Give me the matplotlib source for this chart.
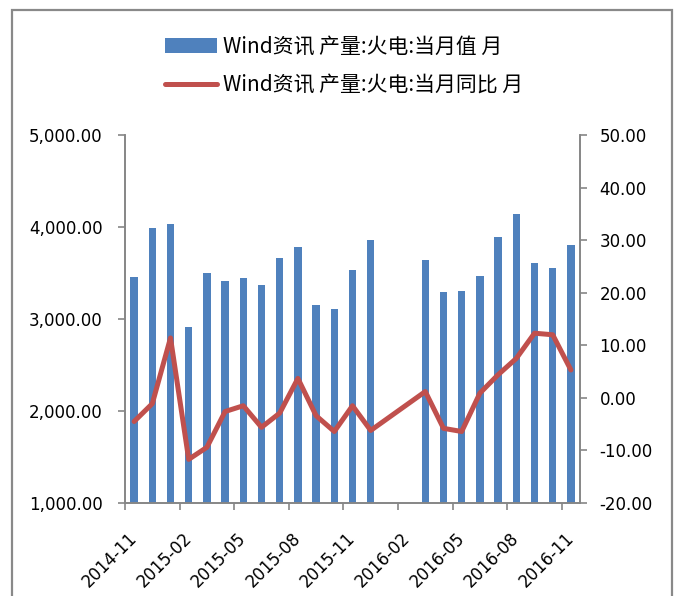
import numpy as np
import matplotlib
matplotlib.use('Agg')
import matplotlib.pyplot as plt
import matplotlib.patches as mpatches

plt.rcParams['font.family'] = ['DejaVu Sans', 'Noto Sans CJK SC']

# monthly categories, 2014-11 .. 2016-11
months = ['2014-11', '2014-12', '2015-01', '2015-02', '2015-03', '2015-04',
          '2015-05', '2015-06', '2015-07', '2015-08', '2015-09', '2015-10',
          '2015-11', '2015-12', '2016-01', '2016-02', '2016-03', '2016-04',
          '2016-05', '2016-06', '2016-07', '2016-08', '2016-09', '2016-10',
          '2016-11']
# 火电 当月值 (亿千瓦时), Jan/Feb 2016 not published
output = [3460, 3986, 4029, 2916, 3497, 3413, 3446, 3370, 3660, 3783,
          3149, 3109, 3533, 3859, np.nan, np.nan, 3645, 3290, 3301, 3464,
          3891, 4138, 3612, 3558, 3801]
# 火电 当月同比 (%)
yoy = [-4.5, -1.1, 11.4, -11.7, -9.4, -2.6, -1.5, -5.6, -2.9, 3.7,
       -3.4, -6.4, -1.5, -6.2, np.nan, np.nan, 1.2, -5.8, -6.4, 0.9,
       4.4, 7.5, 12.3, 12.0, 5.3]

label1 = 'Wind资讯 产量:火电:当月值 月'
label2 = 'Wind资讯 产量:火电:当月同比 月'

blue = '#4F81BD'
red = '#C0504D'
grey = '#868686'

fig = plt.figure(figsize=(6.77, 5.96), dpi=100)
ax = fig.add_axes([125 / 677, 93 / 596, 455 / 677, 368 / 596])
ax2 = ax.twinx()

x = np.arange(len(months))
out = np.array(output, dtype=float)
bars = ax.bar(x, out, width=0.4, color=blue, zorder=2, label=label1)

yy = np.array(yoy, dtype=float)
ok = ~np.isnan(yy)
line, = ax2.plot(x[ok], yy[ok], color=red, lw=3.6, solid_capstyle='round',
                 solid_joinstyle='round', label=label2)

ax.set_xlim(-0.5, len(months) - 0.5)
ax.set_ylim(1000, 5000)
ax.set_yticks(np.arange(1000, 5001, 1000))
ax.set_yticklabels(['{:,.2f}'.format(v) for v in np.arange(1000, 5001, 1000)])
ax2.set_ylim(-20, 50)
ax2.set_yticks(np.arange(-20, 51, 10))
ax2.set_yticklabels(['{:.2f}'.format(v) for v in np.arange(-20, 51, 10)])

# tick marks between categories, labels every 3 months
ax.set_xticks(np.arange(-0.5, len(months), 3))
ax.set_xticklabels([])
ax.set_xticks(x[::3] + 0.35, minor=True)
ax.set_xticklabels(months[::3], minor=True, rotation=45, ha='right', fontsize=12)
ax.tick_params(axis='x', which='minor', length=0, pad=19)
ax.tick_params(axis='x', which='major', length=5, color=grey, width=1.2)
ax.tick_params(axis='y', length=5, color=grey, width=1.2, labelsize=12, pad=11)
ax2.tick_params(axis='y', length=5, color=grey, width=1.2, labelsize=12, pad=9)

for a in (ax, ax2):
    a.spines['top'].set_visible(False)
    for s in ('left', 'right', 'bottom'):
        a.spines[s].set_color(grey)
        a.spines[s].set_linewidth(1.2)

fig.legend([bars, line], [label1, label2], loc='upper center',
           bbox_to_anchor=(344 / 677, 0.972), ncol=1, frameon=False,
           prop={'family': ['Noto Sans CJK SC'], 'size': 15},
           handlelength=2.5, handleheight=0.75, handletextpad=0.3,
           labelspacing=0.8)

# outer chart border
fig.patches.append(mpatches.Rectangle((12 / 677, -0.05), 660 / 677, 1.05 - 10 / 596,
                                      transform=fig.transFigure, fill=False,
                                      edgecolor='#898989', linewidth=1.6,
                                      clip_on=False))

fig.savefig('out.png', dpi=100)
